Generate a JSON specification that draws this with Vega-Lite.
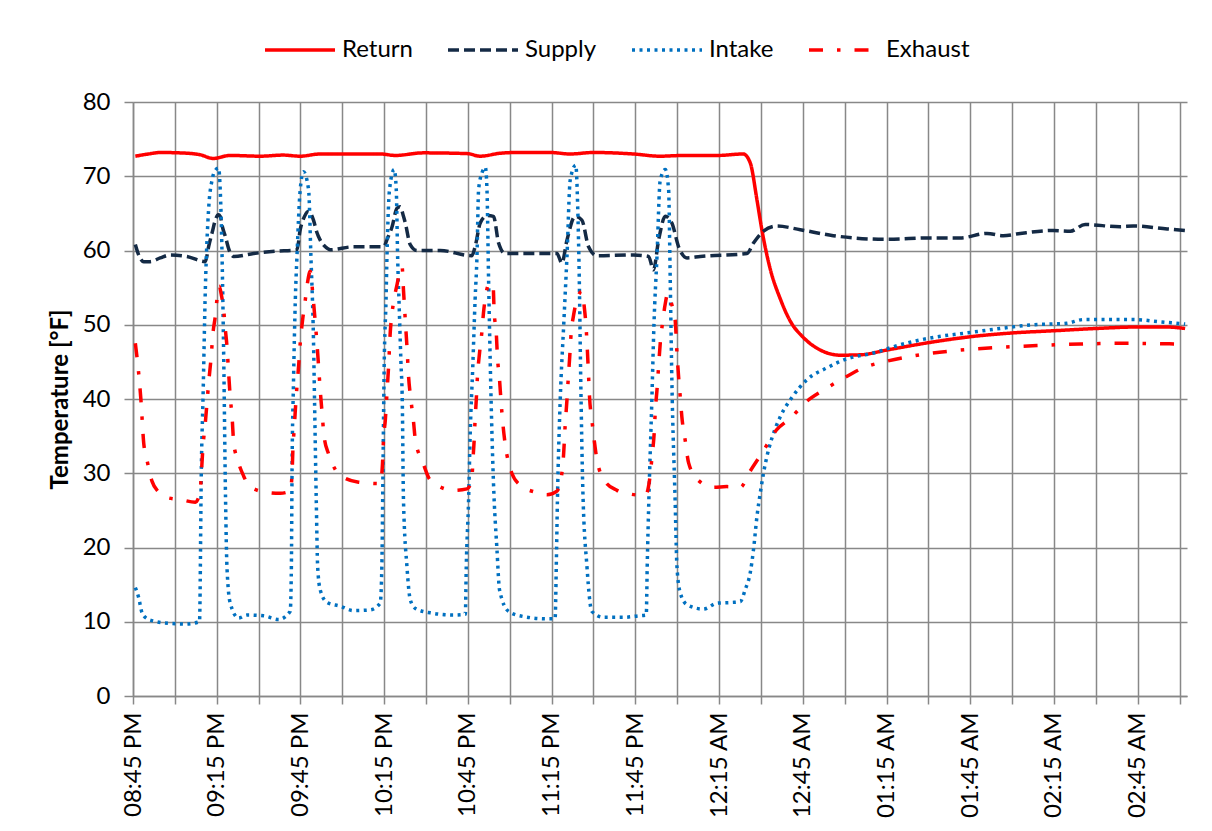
{
  "$schema": "https://vega.github.io/schema/vega-lite/v6.json",
  "width": 1054,
  "height": 594,
  "autosize": {"type": "none"},
  "padding": {"left": 133, "top": 102, "right": 25, "bottom": 135},
  "background": "white",
  "config": {"view": {"stroke": null}, "font": "Lato"},
  "data": {"values": [
    {"s":"Return","t":"2020-01-01T20:45:50","v":72.7},
    {"s":"Return","t":"2020-01-01T20:50:30","v":73.0},
    {"s":"Return","t":"2020-01-01T20:54:45","v":73.2},
    {"s":"Return","t":"2020-01-01T21:04:30","v":73.1},
    {"s":"Return","t":"2020-01-01T21:09:00","v":72.9},
    {"s":"Return","t":"2020-01-01T21:13:45","v":72.4},
    {"s":"Return","t":"2020-01-01T21:19:50","v":72.8},
    {"s":"Return","t":"2020-01-01T21:30:35","v":72.7},
    {"s":"Return","t":"2020-01-01T21:38:50","v":72.85},
    {"s":"Return","t":"2020-01-01T21:44:55","v":72.7},
    {"s":"Return","t":"2020-01-01T21:52:05","v":73.0},
    {"s":"Return","t":"2020-01-01T22:02:50","v":73.0},
    {"s":"Return","t":"2020-01-01T22:13:35","v":73.0},
    {"s":"Return","t":"2020-01-01T22:19:00","v":72.8},
    {"s":"Return","t":"2020-01-01T22:28:55","v":73.15},
    {"s":"Return","t":"2020-01-01T22:44:45","v":73.05},
    {"s":"Return","t":"2020-01-01T22:49:25","v":72.7},
    {"s":"Return","t":"2020-01-01T22:56:35","v":73.1},
    {"s":"Return","t":"2020-01-01T23:02:40","v":73.2},
    {"s":"Return","t":"2020-01-01T23:14:30","v":73.2},
    {"s":"Return","t":"2020-01-01T23:21:40","v":73.0},
    {"s":"Return","t":"2020-01-01T23:30:00","v":73.2},
    {"s":"Return","t":"2020-01-01T23:44:15","v":73.0},
    {"s":"Return","t":"2020-01-01T23:53:55","v":72.7},
    {"s":"Return","t":"2020-01-02T00:02:10","v":72.8},
    {"s":"Return","t":"2020-01-02T00:14:20","v":72.8},
    {"s":"Return","t":"2020-01-02T00:23:40","v":73.0},
    {"s":"Return","t":"2020-01-02T00:26:10","v":71.8},
    {"s":"Return","t":"2020-01-02T00:28:35","v":66.8},
    {"s":"Return","t":"2020-01-02T00:30:20","v":62.8},
    {"s":"Return","t":"2020-01-02T00:33:20","v":57.5},
    {"s":"Return","t":"2020-01-02T00:36:55","v":53.5},
    {"s":"Return","t":"2020-01-02T00:40:30","v":50.5},
    {"s":"Return","t":"2020-01-02T00:45:10","v":48.3},
    {"s":"Return","t":"2020-01-02T00:51:15","v":46.6},
    {"s":"Return","t":"2020-01-02T00:58:25","v":45.9},
    {"s":"Return","t":"2020-01-02T01:05:35","v":45.95},
    {"s":"Return","t":"2020-01-02T01:15:10","v":46.6},
    {"s":"Return","t":"2020-01-02T01:30:15","v":47.6},
    {"s":"Return","t":"2020-01-02T01:45:20","v":48.4},
    {"s":"Return","t":"2020-01-02T02:00:15","v":48.9},
    {"s":"Return","t":"2020-01-02T02:15:20","v":49.2},
    {"s":"Return","t":"2020-01-02T02:30:20","v":49.5},
    {"s":"Return","t":"2020-01-02T02:45:15","v":49.7},
    {"s":"Return","t":"2020-01-02T02:54:50","v":49.7},
    {"s":"Return","t":"2020-01-02T03:02:00","v":49.5},

    {"s":"Supply","t":"2020-01-01T20:45:50","v":60.8},
    {"s":"Supply","t":"2020-01-01T20:46:55","v":59.5},
    {"s":"Supply","t":"2020-01-01T20:48:50","v":58.5},
    {"s":"Supply","t":"2020-01-01T20:51:10","v":58.5},
    {"s":"Supply","t":"2020-01-01T20:54:45","v":59.0},
    {"s":"Supply","t":"2020-01-01T20:58:20","v":59.4},
    {"s":"Supply","t":"2020-01-01T21:04:20","v":59.2},
    {"s":"Supply","t":"2020-01-01T21:10:55","v":58.5},
    {"s":"Supply","t":"2020-01-01T21:12:05","v":60.5},
    {"s":"Supply","t":"2020-01-01T21:13:25","v":62.5},
    {"s":"Supply","t":"2020-01-01T21:14:30","v":64.1},
    {"s":"Supply","t":"2020-01-01T21:15:35","v":64.8},
    {"s":"Supply","t":"2020-01-01T21:16:15","v":64.6},
    {"s":"Supply","t":"2020-01-01T21:17:10","v":63.0},
    {"s":"Supply","t":"2020-01-01T21:18:05","v":61.9},
    {"s":"Supply","t":"2020-01-01T21:19:30","v":60.0},
    {"s":"Supply","t":"2020-01-01T21:21:05","v":59.2},
    {"s":"Supply","t":"2020-01-01T21:28:15","v":59.6},
    {"s":"Supply","t":"2020-01-01T21:36:00","v":59.9},
    {"s":"Supply","t":"2020-01-01T21:43:45","v":60.1},
    {"s":"Supply","t":"2020-01-01T21:44:55","v":62.8},
    {"s":"Supply","t":"2020-01-01T21:46:20","v":64.5},
    {"s":"Supply","t":"2020-01-01T21:47:55","v":65.3},
    {"s":"Supply","t":"2020-01-01T21:49:40","v":64.1},
    {"s":"Supply","t":"2020-01-01T21:50:50","v":62.5},
    {"s":"Supply","t":"2020-01-01T21:52:05","v":61.4},
    {"s":"Supply","t":"2020-01-01T21:53:55","v":60.5},
    {"s":"Supply","t":"2020-01-01T21:55:40","v":60.1},
    {"s":"Supply","t":"2020-01-01T22:04:00","v":60.5},
    {"s":"Supply","t":"2020-01-01T22:14:45","v":60.5},
    {"s":"Supply","t":"2020-01-01T22:16:15","v":61.7},
    {"s":"Supply","t":"2020-01-01T22:17:50","v":63.2},
    {"s":"Supply","t":"2020-01-01T22:19:35","v":65.7},
    {"s":"Supply","t":"2020-01-01T22:20:45","v":65.9},
    {"s":"Supply","t":"2020-01-01T22:21:55","v":64.6},
    {"s":"Supply","t":"2020-01-01T22:22:35","v":63.7},
    {"s":"Supply","t":"2020-01-01T22:24:20","v":60.8},
    {"s":"Supply","t":"2020-01-01T22:26:45","v":60.0},
    {"s":"Supply","t":"2020-01-01T22:35:05","v":60.0},
    {"s":"Supply","t":"2020-01-01T22:46:25","v":59.3},
    {"s":"Supply","t":"2020-01-01T22:47:35","v":60.5},
    {"s":"Supply","t":"2020-01-01T22:49:25","v":63.7},
    {"s":"Supply","t":"2020-01-01T22:51:50","v":64.7},
    {"s":"Supply","t":"2020-01-01T22:54:10","v":64.6},
    {"s":"Supply","t":"2020-01-01T22:56:00","v":61.0},
    {"s":"Supply","t":"2020-01-01T22:58:20","v":59.6},
    {"s":"Supply","t":"2020-01-01T23:08:30","v":59.6},
    {"s":"Supply","t":"2020-01-01T23:16:55","v":59.6},
    {"s":"Supply","t":"2020-01-01T23:18:40","v":58.3},
    {"s":"Supply","t":"2020-01-01T23:20:30","v":61.4},
    {"s":"Supply","t":"2020-01-01T23:23:25","v":64.6},
    {"s":"Supply","t":"2020-01-01T23:25:50","v":64.1},
    {"s":"Supply","t":"2020-01-01T23:28:15","v":60.5},
    {"s":"Supply","t":"2020-01-01T23:31:15","v":59.3},
    {"s":"Supply","t":"2020-01-01T23:44:20","v":59.4},
    {"s":"Supply","t":"2020-01-01T23:49:45","v":59.2},
    {"s":"Supply","t":"2020-01-01T23:51:30","v":57.4},
    {"s":"Supply","t":"2020-01-01T23:53:20","v":61.4},
    {"s":"Supply","t":"2020-01-01T23:55:45","v":64.6},
    {"s":"Supply","t":"2020-01-01T23:58:05","v":63.7},
    {"s":"Supply","t":"2020-01-02T00:00:30","v":60.5},
    {"s":"Supply","t":"2020-01-02T00:03:30","v":59.0},
    {"s":"Supply","t":"2020-01-02T00:08:15","v":59.2},
    {"s":"Supply","t":"2020-01-02T00:25:00","v":59.6},
    {"s":"Supply","t":"2020-01-02T00:27:20","v":61.0},
    {"s":"Supply","t":"2020-01-02T00:30:55","v":62.6},
    {"s":"Supply","t":"2020-01-02T00:35:45","v":63.3},
    {"s":"Supply","t":"2020-01-02T00:44:05","v":62.8},
    {"s":"Supply","t":"2020-01-02T00:55:55","v":62.0},
    {"s":"Supply","t":"2020-01-02T01:15:10","v":61.5},
    {"s":"Supply","t":"2020-01-02T01:30:40","v":61.7},
    {"s":"Supply","t":"2020-01-02T01:41:25","v":61.7},
    {"s":"Supply","t":"2020-01-02T01:51:00","v":62.3},
    {"s":"Supply","t":"2020-01-02T01:56:50","v":62.0},
    {"s":"Supply","t":"2020-01-02T02:02:55","v":62.3},
    {"s":"Supply","t":"2020-01-02T02:14:45","v":62.7},
    {"s":"Supply","t":"2020-01-02T02:20:50","v":62.6},
    {"s":"Supply","t":"2020-01-02T02:26:10","v":63.5},
    {"s":"Supply","t":"2020-01-02T02:38:40","v":63.2},
    {"s":"Supply","t":"2020-01-02T02:43:25","v":63.3},
    {"s":"Supply","t":"2020-01-02T02:55:35","v":62.9},
    {"s":"Supply","t":"2020-01-02T03:02:00","v":62.7},

    {"s":"Intake","t":"2020-01-01T20:45:50","v":14.6},
    {"s":"Intake","t":"2020-01-01T20:47:00","v":13.3},
    {"s":"Intake","t":"2020-01-01T20:48:15","v":11.2},
    {"s":"Intake","t":"2020-01-01T20:50:05","v":10.4},
    {"s":"Intake","t":"2020-01-01T20:52:25","v":10.1},
    {"s":"Intake","t":"2020-01-01T20:57:45","v":9.8},
    {"s":"Intake","t":"2020-01-01T21:03:45","v":9.7},
    {"s":"Intake","t":"2020-01-01T21:08:50","v":10.0},
    {"s":"Intake","t":"2020-01-01T21:09:30","v":31.0},
    {"s":"Intake","t":"2020-01-01T21:10:05","v":40.0},
    {"s":"Intake","t":"2020-01-01T21:10:55","v":54.7},
    {"s":"Intake","t":"2020-01-01T21:12:05","v":65.5},
    {"s":"Intake","t":"2020-01-01T21:13:20","v":69.5},
    {"s":"Intake","t":"2020-01-01T21:14:30","v":70.8},
    {"s":"Intake","t":"2020-01-01T21:15:40","v":71.1},
    {"s":"Intake","t":"2020-01-01T21:16:15","v":68.2},
    {"s":"Intake","t":"2020-01-01T21:16:55","v":59.2},
    {"s":"Intake","t":"2020-01-01T21:17:30","v":45.7},
    {"s":"Intake","t":"2020-01-01T21:18:10","v":26.4},
    {"s":"Intake","t":"2020-01-01T21:18:40","v":17.4},
    {"s":"Intake","t":"2020-01-01T21:19:50","v":12.5},
    {"s":"Intake","t":"2020-01-01T21:22:50","v":10.5},
    {"s":"Intake","t":"2020-01-01T21:25:50","v":10.9},
    {"s":"Intake","t":"2020-01-01T21:31:45","v":10.8},
    {"s":"Intake","t":"2020-01-01T21:37:10","v":10.3},
    {"s":"Intake","t":"2020-01-01T21:41:20","v":11.4},
    {"s":"Intake","t":"2020-01-01T21:41:45","v":17.4},
    {"s":"Intake","t":"2020-01-01T21:42:00","v":30.9},
    {"s":"Intake","t":"2020-01-01T21:42:30","v":42.1},
    {"s":"Intake","t":"2020-01-01T21:43:10","v":53.4},
    {"s":"Intake","t":"2020-01-01T21:43:45","v":59.2},
    {"s":"Intake","t":"2020-01-01T21:44:55","v":68.2},
    {"s":"Intake","t":"2020-01-01T21:46:05","v":70.6},
    {"s":"Intake","t":"2020-01-01T21:47:55","v":68.2},
    {"s":"Intake","t":"2020-01-01T21:48:45","v":59.2},
    {"s":"Intake","t":"2020-01-01T21:49:40","v":48.0},
    {"s":"Intake","t":"2020-01-01T21:50:05","v":39.0},
    {"s":"Intake","t":"2020-01-01T21:50:40","v":26.4},
    {"s":"Intake","t":"2020-01-01T21:51:10","v":17.4},
    {"s":"Intake","t":"2020-01-01T21:52:05","v":14.3},
    {"s":"Intake","t":"2020-01-01T21:54:30","v":12.6},
    {"s":"Intake","t":"2020-01-01T21:59:15","v":12.1},
    {"s":"Intake","t":"2020-01-01T22:04:00","v":11.5},
    {"s":"Intake","t":"2020-01-01T22:10:00","v":11.6},
    {"s":"Intake","t":"2020-01-01T22:13:35","v":12.5},
    {"s":"Intake","t":"2020-01-01T22:14:10","v":17.4},
    {"s":"Intake","t":"2020-01-01T22:14:35","v":30.9},
    {"s":"Intake","t":"2020-01-01T22:15:00","v":44.4},
    {"s":"Intake","t":"2020-01-01T22:15:40","v":53.4},
    {"s":"Intake","t":"2020-01-01T22:16:00","v":59.2},
    {"s":"Intake","t":"2020-01-01T22:16:55","v":68.2},
    {"s":"Intake","t":"2020-01-01T22:18:35","v":70.9},
    {"s":"Intake","t":"2020-01-01T22:19:20","v":68.2},
    {"s":"Intake","t":"2020-01-01T22:19:50","v":59.0},
    {"s":"Intake","t":"2020-01-01T22:20:25","v":52.0},
    {"s":"Intake","t":"2020-01-01T22:21:00","v":45.0},
    {"s":"Intake","t":"2020-01-01T22:21:30","v":39.5},
    {"s":"Intake","t":"2020-01-01T22:21:55","v":26.4},
    {"s":"Intake","t":"2020-01-01T22:23:10","v":17.4},
    {"s":"Intake","t":"2020-01-01T22:24:20","v":13.0},
    {"s":"Intake","t":"2020-01-01T22:26:10","v":11.8},
    {"s":"Intake","t":"2020-01-01T22:31:30","v":11.2},
    {"s":"Intake","t":"2020-01-01T22:39:50","v":10.9},
    {"s":"Intake","t":"2020-01-01T22:44:05","v":11.0},
    {"s":"Intake","t":"2020-01-01T22:44:25","v":17.4},
    {"s":"Intake","t":"2020-01-01T22:45:15","v":26.4},
    {"s":"Intake","t":"2020-01-01T22:45:50","v":35.4},
    {"s":"Intake","t":"2020-01-01T22:46:45","v":44.4},
    {"s":"Intake","t":"2020-01-01T22:47:35","v":53.4},
    {"s":"Intake","t":"2020-01-01T22:48:15","v":59.2},
    {"s":"Intake","t":"2020-01-01T22:48:50","v":68.2},
    {"s":"Intake","t":"2020-01-01T22:50:05","v":70.5},
    {"s":"Intake","t":"2020-01-01T22:51:15","v":71.2},
    {"s":"Intake","t":"2020-01-01T22:51:50","v":68.2},
    {"s":"Intake","t":"2020-01-01T22:52:25","v":56.0},
    {"s":"Intake","t":"2020-01-01T22:53:00","v":45.0},
    {"s":"Intake","t":"2020-01-01T22:53:30","v":37.0},
    {"s":"Intake","t":"2020-01-01T22:54:10","v":28.7},
    {"s":"Intake","t":"2020-01-01T22:55:25","v":19.7},
    {"s":"Intake","t":"2020-01-01T22:56:20","v":14.3},
    {"s":"Intake","t":"2020-01-01T22:59:35","v":11.4},
    {"s":"Intake","t":"2020-01-01T23:04:55","v":10.7},
    {"s":"Intake","t":"2020-01-01T23:13:20","v":10.4},
    {"s":"Intake","t":"2020-01-01T23:16:15","v":10.4},
    {"s":"Intake","t":"2020-01-01T23:16:40","v":17.4},
    {"s":"Intake","t":"2020-01-01T23:17:05","v":26.4},
    {"s":"Intake","t":"2020-01-01T23:18:05","v":39.9},
    {"s":"Intake","t":"2020-01-01T23:19:20","v":50.0},
    {"s":"Intake","t":"2020-01-01T23:20:30","v":59.2},
    {"s":"Intake","t":"2020-01-01T23:21:40","v":69.5},
    {"s":"Intake","t":"2020-01-01T23:23:40","v":71.5},
    {"s":"Intake","t":"2020-01-01T23:24:20","v":66.0},
    {"s":"Intake","t":"2020-01-01T23:24:55","v":56.0},
    {"s":"Intake","t":"2020-01-01T23:25:25","v":43.0},
    {"s":"Intake","t":"2020-01-01T23:26:10","v":28.0},
    {"s":"Intake","t":"2020-01-01T23:27:40","v":17.4},
    {"s":"Intake","t":"2020-01-01T23:29:25","v":11.4},
    {"s":"Intake","t":"2020-01-01T23:33:35","v":10.6},
    {"s":"Intake","t":"2020-01-01T23:40:45","v":10.6},
    {"s":"Intake","t":"2020-01-01T23:46:10","v":10.8},
    {"s":"Intake","t":"2020-01-01T23:48:55","v":10.9},
    {"s":"Intake","t":"2020-01-01T23:49:15","v":17.4},
    {"s":"Intake","t":"2020-01-01T23:49:50","v":26.4},
    {"s":"Intake","t":"2020-01-01T23:50:55","v":39.9},
    {"s":"Intake","t":"2020-01-01T23:51:40","v":50.0},
    {"s":"Intake","t":"2020-01-01T23:52:45","v":59.2},
    {"s":"Intake","t":"2020-01-01T23:53:55","v":69.5},
    {"s":"Intake","t":"2020-01-01T23:55:45","v":70.9},
    {"s":"Intake","t":"2020-01-01T23:56:55","v":68.2},
    {"s":"Intake","t":"2020-01-01T23:57:30","v":56.0},
    {"s":"Intake","t":"2020-01-01T23:58:05","v":42.5},
    {"s":"Intake","t":"2020-01-01T23:59:15","v":26.4},
    {"s":"Intake","t":"2020-01-01T23:59:55","v":17.4},
    {"s":"Intake","t":"2020-01-02T00:01:05","v":13.9},
    {"s":"Intake","t":"2020-01-02T00:03:30","v":12.3},
    {"s":"Intake","t":"2020-01-02T00:09:25","v":11.7},
    {"s":"Intake","t":"2020-01-02T00:14:15","v":12.5},
    {"s":"Intake","t":"2020-01-02T00:19:35","v":12.6},
    {"s":"Intake","t":"2020-01-02T00:22:35","v":12.7},
    {"s":"Intake","t":"2020-01-02T00:24:20","v":14.3},
    {"s":"Intake","t":"2020-01-02T00:26:10","v":16.6},
    {"s":"Intake","t":"2020-01-02T00:27:20","v":19.7},
    {"s":"Intake","t":"2020-01-02T00:28:35","v":24.2},
    {"s":"Intake","t":"2020-01-02T00:29:45","v":27.3},
    {"s":"Intake","t":"2020-01-02T00:30:55","v":30.0},
    {"s":"Intake","t":"2020-01-02T00:32:10","v":32.3},
    {"s":"Intake","t":"2020-01-02T00:33:55","v":34.7},
    {"s":"Intake","t":"2020-01-02T00:36:55","v":37.6},
    {"s":"Intake","t":"2020-01-02T00:41:05","v":40.2},
    {"s":"Intake","t":"2020-01-02T00:46:30","v":42.6},
    {"s":"Intake","t":"2020-01-02T00:53:40","v":44.2},
    {"s":"Intake","t":"2020-01-02T01:00:45","v":45.4},
    {"s":"Intake","t":"2020-01-02T01:10:20","v":46.2},
    {"s":"Intake","t":"2020-01-02T01:19:55","v":47.3},
    {"s":"Intake","t":"2020-01-02T01:31:50","v":48.3},
    {"s":"Intake","t":"2020-01-02T01:43:50","v":48.9},
    {"s":"Intake","t":"2020-01-02T01:55:45","v":49.5},
    {"s":"Intake","t":"2020-01-02T02:07:40","v":50.0},
    {"s":"Intake","t":"2020-01-02T02:19:35","v":50.2},
    {"s":"Intake","t":"2020-01-02T02:25:35","v":50.7},
    {"s":"Intake","t":"2020-01-02T02:43:30","v":50.7},
    {"s":"Intake","t":"2020-01-02T02:53:05","v":50.4},
    {"s":"Intake","t":"2020-01-02T03:02:00","v":50.1},

    {"s":"Exhaust","t":"2020-01-01T20:45:50","v":47.5},
    {"s":"Exhaust","t":"2020-01-01T20:47:00","v":43.6},
    {"s":"Exhaust","t":"2020-01-01T20:47:50","v":39.9},
    {"s":"Exhaust","t":"2020-01-01T20:48:50","v":34.1},
    {"s":"Exhaust","t":"2020-01-01T20:50:00","v":31.8},
    {"s":"Exhaust","t":"2020-01-01T20:51:50","v":28.9},
    {"s":"Exhaust","t":"2020-01-01T20:54:05","v":27.5},
    {"s":"Exhaust","t":"2020-01-01T20:56:35","v":26.8},
    {"s":"Exhaust","t":"2020-01-01T21:02:35","v":26.4},
    {"s":"Exhaust","t":"2020-01-01T21:07:20","v":26.1},
    {"s":"Exhaust","t":"2020-01-01T21:09:05","v":27.5},
    {"s":"Exhaust","t":"2020-01-01T21:09:30","v":30.0},
    {"s":"Exhaust","t":"2020-01-01T21:10:05","v":33.6},
    {"s":"Exhaust","t":"2020-01-01T21:10:55","v":36.8},
    {"s":"Exhaust","t":"2020-01-01T21:11:30","v":39.4},
    {"s":"Exhaust","t":"2020-01-01T21:12:05","v":42.1},
    {"s":"Exhaust","t":"2020-01-01T21:12:55","v":45.3},
    {"s":"Exhaust","t":"2020-01-01T21:13:40","v":48.9},
    {"s":"Exhaust","t":"2020-01-01T21:14:30","v":51.2},
    {"s":"Exhaust","t":"2020-01-01T21:15:05","v":53.4},
    {"s":"Exhaust","t":"2020-01-01T21:15:55","v":55.2},
    {"s":"Exhaust","t":"2020-01-01T21:16:40","v":54.0},
    {"s":"Exhaust","t":"2020-01-01T21:17:30","v":52.0},
    {"s":"Exhaust","t":"2020-01-01T21:18:05","v":49.4},
    {"s":"Exhaust","t":"2020-01-01T21:18:40","v":47.1},
    {"s":"Exhaust","t":"2020-01-01T21:19:15","v":43.6},
    {"s":"Exhaust","t":"2020-01-01T21:19:50","v":40.3},
    {"s":"Exhaust","t":"2020-01-01T21:20:30","v":37.6},
    {"s":"Exhaust","t":"2020-01-01T21:21:05","v":34.1},
    {"s":"Exhaust","t":"2020-01-01T21:22:30","v":31.8},
    {"s":"Exhaust","t":"2020-01-01T21:24:40","v":29.6},
    {"s":"Exhaust","t":"2020-01-01T21:26:25","v":28.4},
    {"s":"Exhaust","t":"2020-01-01T21:31:45","v":27.5},
    {"s":"Exhaust","t":"2020-01-01T21:37:45","v":27.3},
    {"s":"Exhaust","t":"2020-01-01T21:41:20","v":27.6},
    {"s":"Exhaust","t":"2020-01-01T21:42:00","v":30.0},
    {"s":"Exhaust","t":"2020-01-01T21:42:20","v":33.6},
    {"s":"Exhaust","t":"2020-01-01T21:42:45","v":35.9},
    {"s":"Exhaust","t":"2020-01-01T21:43:10","v":38.5},
    {"s":"Exhaust","t":"2020-01-01T21:43:45","v":41.7},
    {"s":"Exhaust","t":"2020-01-01T21:44:20","v":44.4},
    {"s":"Exhaust","t":"2020-01-01T21:44:55","v":47.5},
    {"s":"Exhaust","t":"2020-01-01T21:45:55","v":51.1},
    {"s":"Exhaust","t":"2020-01-01T21:46:45","v":53.4},
    {"s":"Exhaust","t":"2020-01-01T21:47:35","v":55.8},
    {"s":"Exhaust","t":"2020-01-01T21:48:30","v":57.2},
    {"s":"Exhaust","t":"2020-01-01T21:49:30","v":53.8},
    {"s":"Exhaust","t":"2020-01-01T21:50:20","v":50.2},
    {"s":"Exhaust","t":"2020-01-01T21:50:55","v":47.5},
    {"s":"Exhaust","t":"2020-01-01T21:51:30","v":44.4},
    {"s":"Exhaust","t":"2020-01-01T21:52:05","v":41.2},
    {"s":"Exhaust","t":"2020-01-01T21:52:40","v":38.5},
    {"s":"Exhaust","t":"2020-01-01T21:53:30","v":34.9},
    {"s":"Exhaust","t":"2020-01-01T21:55:05","v":32.6},
    {"s":"Exhaust","t":"2020-01-01T21:57:30","v":30.5},
    {"s":"Exhaust","t":"2020-01-01T21:59:50","v":29.6},
    {"s":"Exhaust","t":"2020-01-01T22:05:50","v":28.8},
    {"s":"Exhaust","t":"2020-01-01T22:13:35","v":28.6},
    {"s":"Exhaust","t":"2020-01-01T22:14:25","v":31.4},
    {"s":"Exhaust","t":"2020-01-01T22:14:45","v":34.5},
    {"s":"Exhaust","t":"2020-01-01T22:15:25","v":37.2},
    {"s":"Exhaust","t":"2020-01-01T22:16:00","v":40.8},
    {"s":"Exhaust","t":"2020-01-01T22:16:35","v":44.4},
    {"s":"Exhaust","t":"2020-01-01T22:17:10","v":48.9},
    {"s":"Exhaust","t":"2020-01-01T22:17:50","v":51.6},
    {"s":"Exhaust","t":"2020-01-01T22:18:20","v":53.0},
    {"s":"Exhaust","t":"2020-01-01T22:19:40","v":55.5},
    {"s":"Exhaust","t":"2020-01-01T22:20:45","v":57.5},
    {"s":"Exhaust","t":"2020-01-01T22:21:25","v":57.8},
    {"s":"Exhaust","t":"2020-01-01T22:21:55","v":54.7},
    {"s":"Exhaust","t":"2020-01-01T22:22:35","v":50.5},
    {"s":"Exhaust","t":"2020-01-01T22:23:10","v":47.0},
    {"s":"Exhaust","t":"2020-01-01T22:23:45","v":43.0},
    {"s":"Exhaust","t":"2020-01-01T22:24:35","v":39.9},
    {"s":"Exhaust","t":"2020-01-01T22:25:30","v":37.0},
    {"s":"Exhaust","t":"2020-01-01T22:26:10","v":34.5},
    {"s":"Exhaust","t":"2020-01-01T22:28:55","v":31.4},
    {"s":"Exhaust","t":"2020-01-01T22:31:30","v":29.1},
    {"s":"Exhaust","t":"2020-01-01T22:39:50","v":27.7},
    {"s":"Exhaust","t":"2020-01-01T22:44:40","v":27.9},
    {"s":"Exhaust","t":"2020-01-01T22:46:25","v":29.1},
    {"s":"Exhaust","t":"2020-01-01T22:46:45","v":31.4},
    {"s":"Exhaust","t":"2020-01-01T22:47:15","v":34.5},
    {"s":"Exhaust","t":"2020-01-01T22:47:35","v":37.2},
    {"s":"Exhaust","t":"2020-01-01T22:48:00","v":39.9},
    {"s":"Exhaust","t":"2020-01-01T22:48:25","v":43.0},
    {"s":"Exhaust","t":"2020-01-01T22:49:10","v":46.2},
    {"s":"Exhaust","t":"2020-01-01T22:50:00","v":49.0},
    {"s":"Exhaust","t":"2020-01-01T22:50:35","v":51.6},
    {"s":"Exhaust","t":"2020-01-01T22:51:10","v":53.4},
    {"s":"Exhaust","t":"2020-01-01T22:52:40","v":55.5},
    {"s":"Exhaust","t":"2020-01-01T22:54:00","v":55.5},
    {"s":"Exhaust","t":"2020-01-01T22:54:25","v":51.7},
    {"s":"Exhaust","t":"2020-01-01T22:55:10","v":48.9},
    {"s":"Exhaust","t":"2020-01-01T22:55:35","v":45.7},
    {"s":"Exhaust","t":"2020-01-01T22:56:20","v":42.6},
    {"s":"Exhaust","t":"2020-01-01T22:56:50","v":39.9},
    {"s":"Exhaust","t":"2020-01-01T22:57:30","v":36.8},
    {"s":"Exhaust","t":"2020-01-01T22:58:20","v":34.0},
    {"s":"Exhaust","t":"2020-01-01T22:59:35","v":31.4},
    {"s":"Exhaust","t":"2020-01-01T23:00:45","v":30.0},
    {"s":"Exhaust","t":"2020-01-01T23:03:45","v":28.4},
    {"s":"Exhaust","t":"2020-01-01T23:09:45","v":27.4},
    {"s":"Exhaust","t":"2020-01-01T23:13:20","v":27.1},
    {"s":"Exhaust","t":"2020-01-01T23:16:55","v":27.6},
    {"s":"Exhaust","t":"2020-01-01T23:18:40","v":30.0},
    {"s":"Exhaust","t":"2020-01-01T23:19:15","v":32.3},
    {"s":"Exhaust","t":"2020-01-01T23:19:50","v":36.3},
    {"s":"Exhaust","t":"2020-01-01T23:20:30","v":39.9},
    {"s":"Exhaust","t":"2020-01-01T23:21:05","v":43.5},
    {"s":"Exhaust","t":"2020-01-01T23:21:25","v":45.3},
    {"s":"Exhaust","t":"2020-01-01T23:22:00","v":48.9},
    {"s":"Exhaust","t":"2020-01-01T23:22:50","v":51.2},
    {"s":"Exhaust","t":"2020-01-01T23:24:05","v":53.4},
    {"s":"Exhaust","t":"2020-01-01T23:25:50","v":54.5},
    {"s":"Exhaust","t":"2020-01-01T23:26:40","v":52.5},
    {"s":"Exhaust","t":"2020-01-01T23:27:25","v":49.3},
    {"s":"Exhaust","t":"2020-01-01T23:27:50","v":46.4},
    {"s":"Exhaust","t":"2020-01-01T23:28:15","v":43.0},
    {"s":"Exhaust","t":"2020-01-01T23:28:35","v":40.3},
    {"s":"Exhaust","t":"2020-01-01T23:29:25","v":37.2},
    {"s":"Exhaust","t":"2020-01-01T23:30:15","v":34.5},
    {"s":"Exhaust","t":"2020-01-01T23:31:15","v":31.8},
    {"s":"Exhaust","t":"2020-01-01T23:34:10","v":28.9},
    {"s":"Exhaust","t":"2020-01-01T23:38:25","v":27.7},
    {"s":"Exhaust","t":"2020-01-01T23:43:10","v":27.2},
    {"s":"Exhaust","t":"2020-01-01T23:48:35","v":27.0},
    {"s":"Exhaust","t":"2020-01-01T23:50:05","v":29.1},
    {"s":"Exhaust","t":"2020-01-01T23:51:00","v":32.3},
    {"s":"Exhaust","t":"2020-01-01T23:51:45","v":35.4},
    {"s":"Exhaust","t":"2020-01-01T23:52:10","v":38.5},
    {"s":"Exhaust","t":"2020-01-01T23:52:45","v":41.2},
    {"s":"Exhaust","t":"2020-01-01T23:53:20","v":44.4},
    {"s":"Exhaust","t":"2020-01-01T23:53:55","v":47.5},
    {"s":"Exhaust","t":"2020-01-01T23:54:45","v":50.3},
    {"s":"Exhaust","t":"2020-01-01T23:55:45","v":52.9},
    {"s":"Exhaust","t":"2020-01-01T23:56:35","v":54.2},
    {"s":"Exhaust","t":"2020-01-01T23:58:00","v":52.8},
    {"s":"Exhaust","t":"2020-01-01T23:59:15","v":50.7},
    {"s":"Exhaust","t":"2020-01-01T23:59:55","v":46.2},
    {"s":"Exhaust","t":"2020-01-02T00:00:30","v":43.0},
    {"s":"Exhaust","t":"2020-01-02T00:01:05","v":40.3},
    {"s":"Exhaust","t":"2020-01-02T00:01:40","v":37.6},
    {"s":"Exhaust","t":"2020-01-02T00:02:50","v":34.5},
    {"s":"Exhaust","t":"2020-01-02T00:04:05","v":31.4},
    {"s":"Exhaust","t":"2020-01-02T00:07:40","v":29.0},
    {"s":"Exhaust","t":"2020-01-02T00:13:00","v":28.1},
    {"s":"Exhaust","t":"2020-01-02T00:17:50","v":28.2},
    {"s":"Exhaust","t":"2020-01-02T00:22:35","v":28.1},
    {"s":"Exhaust","t":"2020-01-02T00:26:10","v":30.3},
    {"s":"Exhaust","t":"2020-01-02T00:30:20","v":32.7},
    {"s":"Exhaust","t":"2020-01-02T00:35:45","v":35.9},
    {"s":"Exhaust","t":"2020-01-02T00:40:30","v":37.4},
    {"s":"Exhaust","t":"2020-01-02T00:46:30","v":39.7},
    {"s":"Exhaust","t":"2020-01-02T00:52:25","v":41.2},
    {"s":"Exhaust","t":"2020-01-02T00:59:35","v":42.8},
    {"s":"Exhaust","t":"2020-01-02T01:06:45","v":44.2},
    {"s":"Exhaust","t":"2020-01-02T01:15:10","v":45.1},
    {"s":"Exhaust","t":"2020-01-02T01:24:40","v":45.8},
    {"s":"Exhaust","t":"2020-01-02T01:39:00","v":46.5},
    {"s":"Exhaust","t":"2020-01-02T01:53:20","v":46.9},
    {"s":"Exhaust","t":"2020-01-02T02:08:55","v":47.2},
    {"s":"Exhaust","t":"2020-01-02T02:24:25","v":47.4},
    {"s":"Exhaust","t":"2020-01-02T02:39:55","v":47.5},
    {"s":"Exhaust","t":"2020-01-02T03:01:25","v":47.4}
  ]},
  "mark": {"type": "line", "interpolate": "monotone", "strokeWidth": 3.5, "strokeCap": "butt", "clip": true},
  "encoding": {
    "x": {
      "field": "t", "type": "temporal",
      "scale": {"domain": [
        {"year": 2020, "month": 1, "date": 1, "hours": 20, "minutes": 45},
        {"year": 2020, "month": 1, "date": 2, "hours": 3, "minutes": 2, "seconds": 40}
      ]},
      "axis": {
        "title": null,
        "values": [
          {"year": 2020, "month": 1, "date": 1, "hours": 20, "minutes": 45},
          {"year": 2020, "month": 1, "date": 1, "hours": 21, "minutes": 0},
          {"year": 2020, "month": 1, "date": 1, "hours": 21, "minutes": 15},
          {"year": 2020, "month": 1, "date": 1, "hours": 21, "minutes": 30},
          {"year": 2020, "month": 1, "date": 1, "hours": 21, "minutes": 45},
          {"year": 2020, "month": 1, "date": 1, "hours": 22, "minutes": 0},
          {"year": 2020, "month": 1, "date": 1, "hours": 22, "minutes": 15},
          {"year": 2020, "month": 1, "date": 1, "hours": 22, "minutes": 30},
          {"year": 2020, "month": 1, "date": 1, "hours": 22, "minutes": 45},
          {"year": 2020, "month": 1, "date": 1, "hours": 23, "minutes": 0},
          {"year": 2020, "month": 1, "date": 1, "hours": 23, "minutes": 15},
          {"year": 2020, "month": 1, "date": 1, "hours": 23, "minutes": 30},
          {"year": 2020, "month": 1, "date": 1, "hours": 23, "minutes": 45},
          {"year": 2020, "month": 1, "date": 2, "hours": 0, "minutes": 0},
          {"year": 2020, "month": 1, "date": 2, "hours": 0, "minutes": 15},
          {"year": 2020, "month": 1, "date": 2, "hours": 0, "minutes": 30},
          {"year": 2020, "month": 1, "date": 2, "hours": 0, "minutes": 45},
          {"year": 2020, "month": 1, "date": 2, "hours": 1, "minutes": 0},
          {"year": 2020, "month": 1, "date": 2, "hours": 1, "minutes": 15},
          {"year": 2020, "month": 1, "date": 2, "hours": 1, "minutes": 30},
          {"year": 2020, "month": 1, "date": 2, "hours": 1, "minutes": 45},
          {"year": 2020, "month": 1, "date": 2, "hours": 2, "minutes": 0},
          {"year": 2020, "month": 1, "date": 2, "hours": 2, "minutes": 15},
          {"year": 2020, "month": 1, "date": 2, "hours": 2, "minutes": 30},
          {"year": 2020, "month": 1, "date": 2, "hours": 2, "minutes": 45},
          {"year": 2020, "month": 1, "date": 2, "hours": 3, "minutes": 0}
        ],
        "labelExpr": "(minutes(datum.value) == 15 || minutes(datum.value) == 45) ? timeFormat(datum.value, '%I:%M %p') : ''",
        "labelAngle": -90,
        "labelAlign": "right",
        "labelBaseline": "middle",
        "labelFont": "Lato",
        "labelFontSize": 24,
        "labelColor": "#000000",
        "labelPadding": 8,
        "labelOverlap": false,
        "labelFlush": false,
        "grid": true,
        "gridColor": "#888888",
        "gridWidth": 1.5,
        "domainColor": "#888888",
        "domainWidth": 1.5,
        "tickColor": "#888888",
        "tickWidth": 1.5,
        "tickSize": 8
      }
    },
    "y": {
      "field": "v", "type": "quantitative",
      "scale": {"domain": [0, 80], "nice": false, "zero": true},
      "axis": {
        "title": "Temperature [°F]",
        "titleFont": "Lato",
        "titleFontSize": 24,
        "titleFontWeight": "bold",
        "titleColor": "#000000",
        "titlePadding": 10,
        "values": [0, 10, 20, 30, 40, 50, 60, 70, 80],
        "labelFont": "Lato",
        "labelFontSize": 24,
        "labelColor": "#000000",
        "labelPadding": 14,
        "grid": true,
        "gridColor": "#888888",
        "gridWidth": 1.5,
        "domainColor": "#888888",
        "domainWidth": 1.5,
        "tickColor": "#888888",
        "tickWidth": 1.5,
        "tickSize": 9
      }
    },
    "color": {
      "field": "s", "type": "nominal",
      "scale": {"domain": ["Return", "Supply", "Intake", "Exhaust"], "range": ["#FF0000", "#142A45", "#0070C0", "#FF0000"]},
      "legend": {
        "title": null,
        "orient": "none",
        "direction": "horizontal",
        "legendX": 130,
        "legendY": -89,
        "symbolType": "stroke",
        "symbolSize": 4900,
        "symbolStrokeWidth": 3.5,
        "labelFont": "Lato",
        "labelFontSize": 24,
        "labelColor": "#000000",
        "labelOffset": 5,
        "columnPadding": 28,
        "padding": 0
      }
    },
    "strokeDash": {
      "field": "s", "type": "nominal",
      "scale": {"domain": ["Return", "Supply", "Intake", "Exhaust"], "range": [[1, 0], [11, 5], [3, 4.5], [14, 14, 3.5, 14]]},
      "legend": {
        "title": null,
        "orient": "none",
        "direction": "horizontal",
        "legendX": 130,
        "legendY": -89,
        "symbolType": "stroke",
        "symbolSize": 4900,
        "symbolStrokeWidth": 3.5,
        "labelFont": "Lato",
        "labelFontSize": 24,
        "labelColor": "#000000",
        "labelOffset": 5,
        "columnPadding": 28,
        "padding": 0
      }
    }
  }
}
